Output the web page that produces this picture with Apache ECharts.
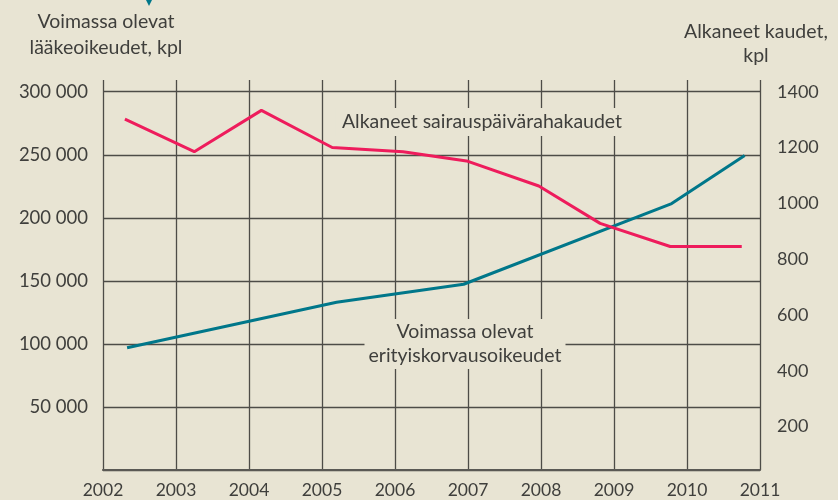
<!DOCTYPE html>
<html>
<head>
<meta charset="utf-8">
<script src="https://cdn.jsdelivr.net/npm/echarts@6/dist/echarts.min.js"></script>
<style>
html,body{margin:0;padding:0;background:#e8e4d3;}
#c{width:838px;height:500px;}
</style>
</head>
<body>
<div id="c"></div>
<script>
// ---- data ----
const years = [2002, 2003, 2004, 2005, 2006, 2007, 2008, 2009, 2010, 2011];
const leftTicks = [0, 50000, 100000, 150000, 200000, 250000, 300000];
const rightTicks = [0, 200, 400, 600, 800, 1000, 1200, 1400];

// Voimassa olevat erityiskorvausoikeudet (left axis)
const tealYears  = [2002.33, 2005.2, 2006.94, 2009.79, 2010.79];
const tealValues = [97000, 133000, 147300, 211300, 249400];

// Alkaneet sairauspäivärahakaudet (right axis)
const pinkYears  = [2002.30, 2003.25, 2004.17, 2005.14, 2006.11, 2006.98, 2007.97, 2008.81, 2009.77, 2010.75];
const pinkValues = [1302, 1185, 1333, 1200, 1185, 1152, 1062, 928, 845, 845];

const leftTitle = 'Voimassa olevat\nlääkeoikeudet, kpl';
const rightTitle = 'Alkaneet kaudet,\nkpl';
const tealLabel = 'Voimassa olevat\nerityiskorvausoikeudet';
const pinkLabel = 'Alkaneet sairauspäivärahakaudet';

// ---- chart ----
const BG = '#e8e4d3';
const TXT = '#3f3f3c';
const GRIDC = '#4d4c47';
const FONT = 'Lato, "Open Sans", sans-serif';
const fmt = v => String(v).replace(/\B(?=(\d{3})+(?!\d))/g, ' ');

const chart = echarts.init(document.getElementById('c'), null, {renderer: 'canvas'});
const xBase = {type: 'value', min: years[0], max: years[years.length - 1], interval: 1};

chart.setOption({
  backgroundColor: BG,
  animation: false,
  textStyle: {fontFamily: FONT},
  grid: [
    {left: 103, right: 78, top: 91.7, bottom: 30},
    {left: 103, right: 78, top: 91.7, bottom: 17.7},
    {left: 103, right: 78, top: 80, bottom: 30}
  ],
  xAxis: [
    Object.assign({}, xBase, {gridIndex: 0, show: false}),
    Object.assign({}, xBase, {gridIndex: 1, show: false}),
    Object.assign({}, xBase, {
      gridIndex: 2,
      axisLine: {show: true, lineStyle: {color: '#5a5954', width: 2.2}},
      axisTick: {show: false},
      splitLine: {show: true, lineStyle: {color: GRIDC, width: 1.3}},
      axisLabel: {margin: 11, fontSize: 17.5, color: TXT, fontFamily: FONT,
                  formatter: v => years.indexOf(v) >= 0 ? String(v) : ''}
    })
  ],
  yAxis: [
    {type: 'value', gridIndex: 0, min: leftTicks[0], max: leftTicks[leftTicks.length - 1], interval: 50000,
     axisLine: {show: false}, axisTick: {show: false},
     splitLine: {show: true, lineStyle: {color: GRIDC, width: 1.3}},
     axisLabel: {showMinLabel: false, margin: 15, fontSize: 18.5, color: TXT, fontFamily: FONT, formatter: fmt}},
    {type: 'value', gridIndex: 1, position: 'right', min: rightTicks[0], max: rightTicks[rightTicks.length - 1], interval: 200,
     axisLine: {show: false}, axisTick: {show: false}, splitLine: {show: false},
     axisLabel: {showMinLabel: false, margin: 17, fontSize: 18, color: TXT, fontFamily: FONT,
                 formatter: v => String(v)}},
    {type: 'value', gridIndex: 2, min: 0, max: 1, show: false}
  ],
  series: [
    {type: 'line', name: 'teal', xAxisIndex: 0, yAxisIndex: 0, showSymbol: false, z: 3,
     lineStyle: {color: '#00778a', width: 3}, itemStyle: {color: '#00778a'},
     data: tealYears.map((y, i) => [y, tealValues[i]])},
    {type: 'line', name: 'pink', xAxisIndex: 1, yAxisIndex: 1, showSymbol: false, z: 4,
     lineStyle: {color: '#ee1c5c', width: 3}, itemStyle: {color: '#ee1c5c'},
     data: pinkYears.map((y, i) => [y, pinkValues[i]])}
  ],
  graphic: [
    {type: 'polygon', z: 50, shape: {points: [[146, 0], [152, 0], [149, 6]]}, style: {fill: '#00778a'}},
    {type: 'text', z: 50, style: {text: leftTitle, x: 106, y: 35, align: 'center', verticalAlign: 'middle',
      fontSize: 19.5, fontFamily: FONT, fill: TXT, lineHeight: 26}},
    {type: 'text', z: 50, style: {text: rightTitle, x: 756, y: 44, align: 'center', verticalAlign: 'middle',
      fontSize: 19.5, fontFamily: FONT, fill: TXT, lineHeight: 24}},
    {type: 'text', z: 50, style: {text: tealLabel, x: 465, y: 344, align: 'center', verticalAlign: 'middle',
      fontSize: 19.5, fontFamily: FONT, fill: TXT, lineHeight: 24, backgroundColor: BG, padding: [1, 4]}},
    {type: 'text', z: 50, style: {text: pinkLabel, x: 482, y: 122, align: 'center', verticalAlign: 'middle',
      fontSize: 19.5, fontFamily: FONT, fill: TXT, lineHeight: 24, backgroundColor: BG, padding: [2, 6]}}
  ]
});
</script>
</body>
</html>
